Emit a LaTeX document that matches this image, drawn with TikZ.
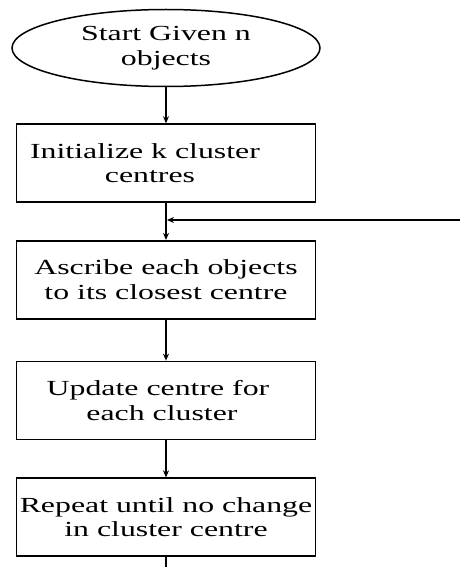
\documentclass[tikz,border=0pt]{standalone}
\usepackage{fontspec}
\setmainfont{Liberation Serif}[FakeStretch=1.48]
\usetikzlibrary{positioning, arrows.meta, shapes.geometric}

\begin{document}
\begin{tikzpicture}[
    x=1pt, y=-1pt,
    font=\fontsize{21.5}{24.5}\selectfont,
    stepbox/.style={draw, line width=1.7pt, rectangle, minimum width=299pt, minimum height=78pt, align=center, inner sep=0pt},
    startnode/.style={draw, line width=1.5pt, ellipse, minimum width=308pt, minimum height=77pt, align=center, inner sep=0pt},
    arr/.style={-{Stealth[length=7pt, width=6pt]}, line width=1.5pt}
]
    \useasboundingbox (0,0) rectangle (460,567);

    \node[startnode] (start) at (166,48) {Start Given n\\objects};
    \node[stepbox] (init) [below=36pt of start] {\hspace*{-42pt}Initialize k cluster\\\hspace*{-32pt}centres};
    \node[stepbox] (assign) [below=37pt of init] {Ascribe each objects\\to its closest centre};
    \node[stepbox] (update) [below=41pt of assign] {\hspace*{-16pt}Update centre for\\\hspace*{-8pt}each cluster};
    \node[stepbox] (repeat) [below=37pt of update] {Repeat until no change\\in cluster centre};

    \coordinate (back) at (460,220);
    \coordinate (bottom) at (repeat.south |- 0,567);

    \draw[arr] (start) -- (init);
    \draw[arr] (init) -- (assign);
    \draw[arr] (assign) -- (update);
    \draw[arr] (update) -- (repeat);
    \draw[arr] (back) -- ([xshift=1pt]init.south |- back);
    \draw[line width=1.5pt] (repeat) -- (bottom);
\end{tikzpicture}
\end{document}
